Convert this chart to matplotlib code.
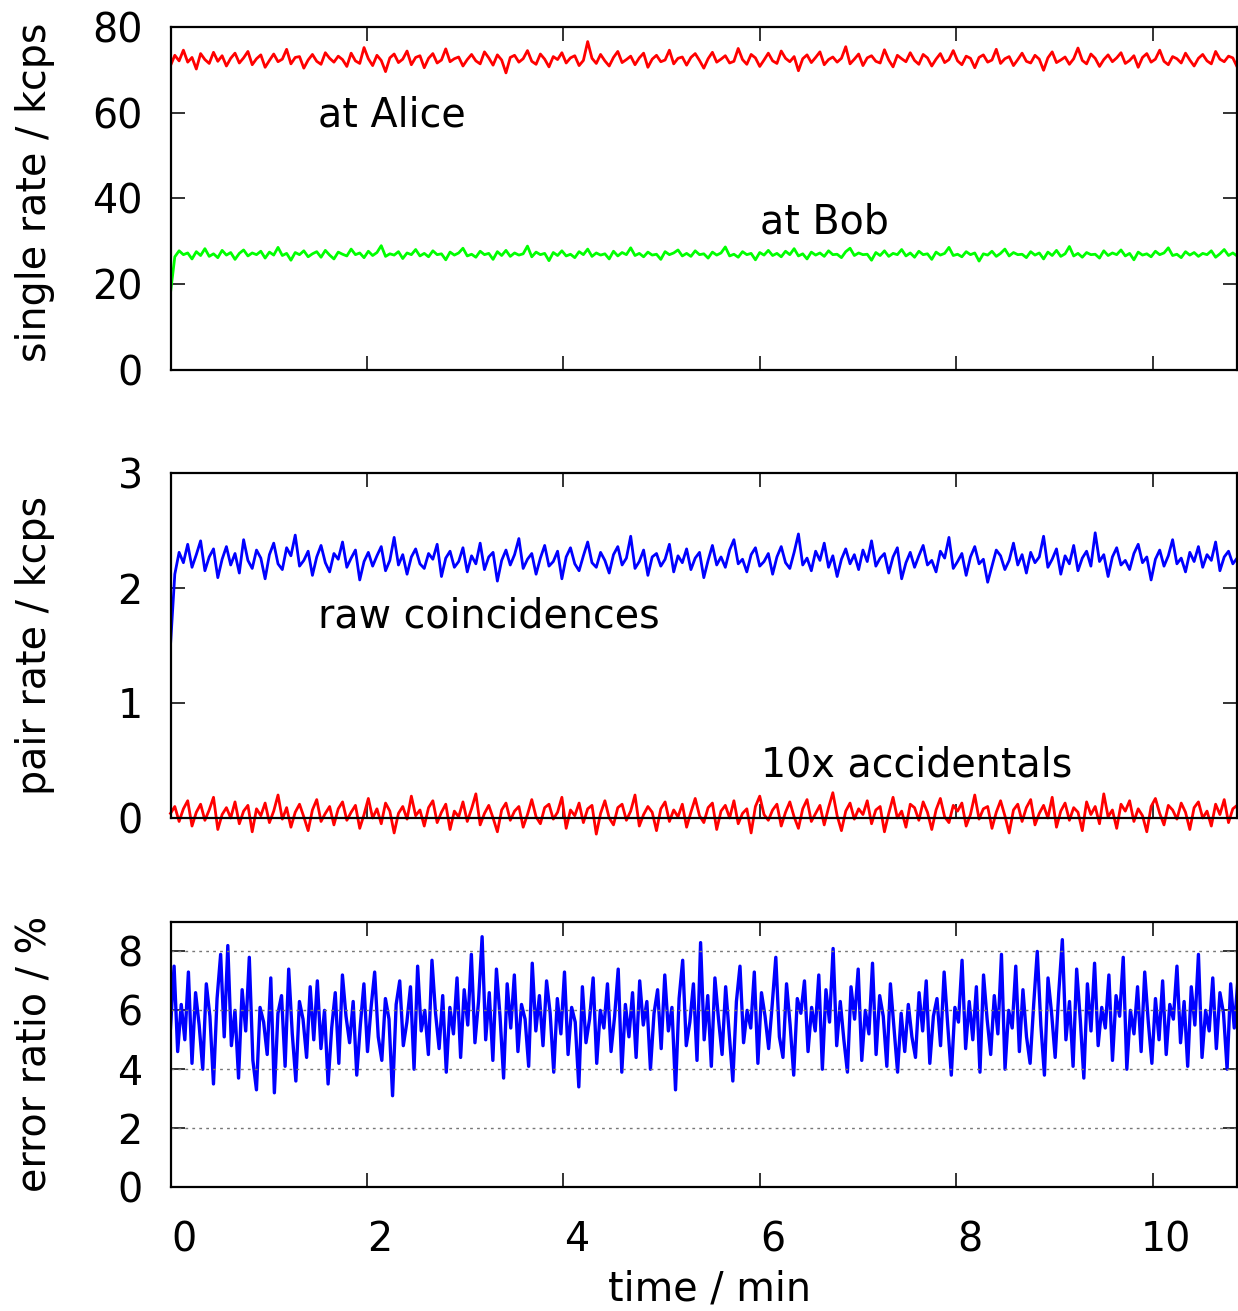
import numpy as np
import matplotlib
matplotlib.use("Agg")
import matplotlib.pyplot as plt
from matplotlib.transforms import ScaledTranslation

# ---- data ----
alice = [
    71.0, 73.4, 72.1, 74.6, 71.8, 72.9, 70.2, 73.8, 72.4, 71.5, 74.1, 72.0, 73.3, 70.9, 72.7, 73.9, 71.6, 72.8, 74.3, 71.2,
    72.6, 73.5, 70.6, 72.2, 73.7, 71.9, 72.5, 74.8, 71.4, 72.9, 73.1, 70.4, 72.3, 73.6, 72.0, 71.3, 74.0, 72.7, 71.8, 73.2,
    72.4, 70.8, 73.9, 72.1, 71.5, 75.2, 72.6, 71.0, 73.4, 72.2, 69.6, 72.8, 73.7, 71.7, 72.5, 74.4, 71.2, 72.9, 73.3, 70.5,
    72.7, 73.8, 71.6, 72.3, 74.9, 71.9, 72.6, 73.0, 70.9, 72.4, 73.6, 72.1, 71.4, 74.2, 72.8, 71.1, 73.5, 72.3, 69.3, 72.9,
    73.4, 71.8, 72.6, 74.5, 72.0, 71.3, 73.7, 72.5, 70.7, 73.1, 72.4, 74.0, 71.6, 72.8, 73.3, 71.0, 72.2, 76.6, 72.7, 71.5,
    73.6, 72.1, 70.9, 72.9, 74.3, 71.7, 72.4, 73.2, 71.2, 72.8, 73.9, 70.6, 72.5, 73.4, 71.9, 72.3, 74.6, 71.4, 72.7, 73.0,
    71.1, 72.9, 73.8, 72.2, 70.4, 72.6, 74.1, 71.8, 72.5, 73.3, 71.6, 72.0, 75.0, 72.4, 71.3, 73.6, 72.8, 70.8, 72.3, 73.9,
    72.1, 71.5, 74.4, 72.7, 71.9, 73.1, 69.8, 72.6, 73.5, 71.7, 72.9, 74.2, 71.2, 72.4, 73.0, 71.8, 72.7, 75.4, 71.4, 72.5,
    73.7, 71.0, 72.8, 73.3, 72.0, 71.6, 74.7, 72.3, 70.7, 73.4, 72.6, 71.9, 74.0, 72.2, 71.3, 73.6, 72.8, 70.9, 72.5, 73.8,
    71.7, 72.4, 74.5, 72.1, 71.2, 73.2, 72.7, 70.5, 72.9, 73.5, 71.8, 72.3, 74.8, 71.5, 72.6, 73.1, 71.0, 72.4, 73.9, 72.0,
    71.6, 73.4, 72.5, 69.9, 72.8, 74.2, 71.7, 72.3, 73.0, 71.3, 72.6, 75.1, 72.2, 71.4, 73.7, 72.7, 70.8, 72.4, 73.5, 71.9,
    72.8, 74.0, 71.5, 72.2, 73.3, 70.6, 72.9, 73.8, 71.8, 72.5, 74.6, 72.0, 71.2, 73.1, 72.6, 71.6, 73.9, 72.3, 70.9, 72.7,
    73.6, 72.1, 71.4, 74.3, 72.5, 71.9, 73.2, 72.8, 70.7, 72.4,
]

bob = [
    18.0, 26.4, 27.8, 26.9, 27.3, 25.9, 27.6, 26.7, 28.3, 26.5, 27.1, 26.2, 27.9, 26.8, 27.4, 25.8, 27.2, 28.0, 26.6, 27.3,
    26.9, 27.7, 26.1, 27.5, 26.8, 28.6, 26.7, 27.2, 25.6, 27.4, 26.9, 27.8, 26.4, 27.1, 27.6, 26.3, 27.9, 26.8, 25.9, 27.5,
    27.0, 26.6, 28.2, 26.9, 27.3, 26.2, 27.7, 26.7, 27.4, 29.0, 26.5, 27.1, 26.8, 27.6, 26.0, 27.3, 26.9, 28.1, 26.6, 27.2,
    26.4, 27.8, 26.9, 27.1, 25.7, 27.5, 26.8, 27.3, 28.4, 26.6, 27.0, 26.3, 27.7, 26.9, 27.2, 25.8, 27.6, 26.7, 27.9, 26.5,
    27.3, 26.8, 27.1, 28.9, 26.4, 27.5, 26.9, 27.2, 25.5, 27.4, 26.7, 27.8, 26.6, 27.0, 26.2, 27.6, 26.9, 28.2, 26.5, 27.3,
    26.8, 27.1, 25.9, 27.7, 26.6, 27.4, 26.9, 28.5, 26.7, 27.2, 26.4, 27.5, 26.8, 27.0, 25.8, 27.6, 26.9, 27.3, 28.0, 26.6,
    27.2, 26.5, 27.8, 26.9, 27.1, 26.1, 27.5, 26.8, 27.3, 28.7, 26.6, 27.0, 26.3, 27.6, 26.9, 27.2, 25.7, 27.4, 26.8, 27.9,
    26.7, 27.2, 26.4, 27.7, 26.9, 28.3, 26.6, 27.1, 25.9, 27.5, 26.8, 27.3, 26.5, 27.8, 26.9, 27.0, 26.2, 27.6, 28.4, 26.7,
    27.3, 26.9, 27.0, 25.6, 27.4, 26.7, 27.8, 26.5, 27.2, 26.9, 28.1, 26.6, 27.3, 26.3, 27.7, 26.9, 27.1, 25.8, 27.5, 26.8,
    27.2, 28.6, 26.7, 27.0, 26.4, 27.6, 26.9, 27.3, 25.4, 27.1, 26.8, 27.7, 26.5, 27.2, 28.2, 26.6, 27.4, 26.9, 27.0, 26.2,
    27.6, 26.8, 27.3, 25.9, 27.5, 26.7, 27.9, 26.5, 27.1, 28.8, 26.6, 27.2, 26.3, 27.4, 26.9, 27.0, 26.1, 27.8, 26.7, 27.3,
    26.9, 28.0, 26.6, 27.2, 25.7, 27.5, 26.8, 27.1, 26.4, 27.7, 26.9, 27.3, 28.5, 26.7, 27.0, 26.2, 27.6, 26.8, 27.4, 26.5,
    27.2, 26.9, 27.8, 26.3, 27.1, 28.1, 26.7, 27.3, 26.6, 27.0,
]

raw_coinc = [
    1.50, 2.12, 2.31, 2.22, 2.38, 2.18, 2.29, 2.41, 2.15, 2.27, 2.34, 2.09, 2.25, 2.36, 2.20, 2.30, 2.13, 2.42, 2.24, 2.17,
    2.33, 2.26, 2.08, 2.29, 2.39, 2.21, 2.16, 2.35, 2.28, 2.46, 2.19, 2.24, 2.32, 2.11, 2.27, 2.37, 2.22, 2.14, 2.30, 2.25,
    2.40, 2.18, 2.26, 2.33, 2.07, 2.23, 2.31, 2.19, 2.28, 2.36, 2.15, 2.24, 2.44, 2.20, 2.29, 2.12, 2.27, 2.34, 2.21, 2.17,
    2.30, 2.25, 2.38, 2.10, 2.26, 2.32, 2.18, 2.23, 2.35, 2.14, 2.28, 2.21, 2.39, 2.16, 2.27, 2.31, 2.06, 2.24, 2.33, 2.20,
    2.29, 2.43, 2.17, 2.25, 2.30, 2.12, 2.26, 2.37, 2.19, 2.23, 2.32, 2.08, 2.27, 2.35, 2.21, 2.15, 2.28, 2.40, 2.22, 2.18,
    2.31, 2.24, 2.13, 2.29, 2.36, 2.20, 2.26, 2.45, 2.17, 2.23, 2.33, 2.11, 2.27, 2.30, 2.19, 2.25, 2.38, 2.14, 2.28, 2.22,
    2.34, 2.16, 2.26, 2.31, 2.09, 2.24, 2.37, 2.20, 2.27, 2.18, 2.33, 2.42, 2.21, 2.25, 2.14, 2.29, 2.35, 2.19, 2.23, 2.30,
    2.12, 2.27, 2.36, 2.22, 2.17, 2.31, 2.47, 2.20, 2.26, 2.15, 2.32, 2.24, 2.39, 2.18, 2.28, 2.10, 2.25, 2.34, 2.21, 2.29,
    2.16, 2.33, 2.23, 2.41, 2.19, 2.26, 2.30, 2.13, 2.27, 2.35, 2.08, 2.22, 2.31, 2.18, 2.28, 2.37, 2.20, 2.24, 2.14, 2.32,
    2.26, 2.44, 2.17, 2.23, 2.30, 2.11, 2.27, 2.36, 2.21, 2.25, 2.05, 2.19, 2.33, 2.28, 2.16, 2.24, 2.39, 2.20, 2.29, 2.13,
    2.31, 2.22, 2.27, 2.45, 2.18, 2.25, 2.34, 2.12, 2.28, 2.21, 2.37, 2.15, 2.26, 2.32, 2.19, 2.48, 2.23, 2.29, 2.10, 2.27,
    2.35, 2.20, 2.24, 2.16, 2.30, 2.38, 2.22, 2.27, 2.07, 2.25, 2.33, 2.19, 2.28, 2.42, 2.21, 2.26, 2.14, 2.31, 2.23, 2.36,
    2.18, 2.29, 2.24, 2.40, 2.15, 2.27, 2.32, 2.21, 2.26, 2.30,
]

# accidentals, already multiplied by 10
accidentals_x10 = [
    0.04, 0.10, -0.03, 0.08, 0.15, -0.07, 0.05, 0.12, -0.02, 0.07, 0.18, -0.10, 0.03, 0.09, 0.00, 0.14, -0.05, 0.06, 0.11, -0.12,
    0.08, 0.02, 0.13, -0.04, 0.06, 0.20, -0.01, 0.09, -0.08, 0.05, 0.12, 0.01, -0.11, 0.07, 0.16, -0.03, 0.04, 0.10, -0.06, 0.08,
    0.14, -0.02, 0.05, 0.11, -0.09, 0.03, 0.17, 0.00, 0.08, -0.05, 0.13, 0.06, -0.13, 0.04, 0.10, -0.01, 0.19, 0.02, 0.07, -0.07,
    0.09, 0.15, -0.04, 0.05, 0.12, -0.10, 0.06, 0.01, 0.14, -0.03, 0.08, 0.21, -0.06, 0.04, 0.11, 0.00, -0.12, 0.07, 0.13, -0.02,
    0.06, 0.10, -0.08, 0.03, 0.16, 0.01, -0.05, 0.09, 0.12, -0.01, 0.05, 0.18, -0.09, 0.07, 0.02, 0.13, -0.04, 0.08, 0.11, -0.14,
    0.04, 0.15, 0.00, -0.06, 0.09, 0.12, -0.02, 0.06, 0.20, -0.07, 0.03, 0.10, 0.05, -0.11, 0.08, 0.14, -0.03, 0.07, 0.01, 0.12,
    -0.08, 0.05, 0.17, 0.02, -0.04, 0.09, 0.13, -0.10, 0.06, 0.11, 0.00, 0.15, -0.05, 0.04, 0.08, -0.13, 0.10, 0.19, 0.03, -0.02,
    0.07, 0.12, -0.07, 0.05, 0.14, 0.01, -0.09, 0.08, 0.16, -0.03, 0.04, 0.11, -0.06, 0.09, 0.22, 0.02, -0.11, 0.06, 0.13, -0.01,
    0.08, 0.03, 0.15, -0.05, 0.07, 0.10, -0.12, 0.04, 0.18, 0.00, 0.06, -0.08, 0.12, 0.09, -0.02, 0.14, 0.05, -0.10, 0.07, 0.17,
    0.01, -0.04, 0.11, 0.06, 0.13, -0.07, 0.03, 0.20, -0.01, 0.08, 0.10, -0.09, 0.05, 0.15, 0.02, -0.13, 0.07, 0.12, -0.03, 0.09,
    0.16, -0.06, 0.04, 0.11, 0.00, 0.18, -0.08, 0.06, 0.13, -0.02, 0.09, 0.05, -0.11, 0.14, 0.03, 0.10, -0.05, 0.21, 0.01, 0.07,
    -0.09, 0.12, 0.06, 0.15, -0.03, 0.08, 0.02, -0.12, 0.10, 0.17, 0.04, -0.06, 0.11, 0.07, -0.01, 0.13, 0.05, -0.10, 0.09, 0.14,
    0.00, 0.06, -0.07, 0.12, 0.03, 0.16, -0.04, 0.08, 0.11, -0.02,
]

error_ratio = [
    5.4, 7.5, 4.6, 6.2, 5.0, 7.3, 4.2, 6.6, 5.5, 4.0, 6.9, 5.8, 3.5, 6.4, 7.9, 5.1, 8.2, 4.8, 6.0, 3.7,
    6.7, 5.3, 7.8, 4.3, 3.3, 6.1, 5.6, 4.5, 7.1, 3.2, 5.9, 6.5, 4.1, 7.4, 5.2, 3.6, 6.3, 5.7, 4.4, 6.8,
    5.0, 7.0, 4.7, 6.0, 3.5, 5.4, 6.6, 4.2, 7.2, 5.8, 4.9, 6.3, 3.8, 5.5, 6.9, 4.6, 6.1, 7.3, 5.1, 4.3,
    6.4, 5.7, 3.1, 6.2, 7.0, 4.8, 5.6, 6.8, 4.0, 7.5, 5.3, 6.0, 4.5, 7.7, 5.9, 4.7, 6.5, 3.9, 6.1, 5.2,
    7.1, 4.4, 6.7, 5.5, 7.9, 4.9, 6.3, 8.5, 5.0, 6.6, 4.3, 7.4, 5.8, 3.7, 6.9, 5.4, 7.2, 4.6, 6.2, 5.7,
    4.1, 7.6, 5.3, 6.5, 4.8, 7.0, 5.9, 3.9, 6.4, 5.2, 7.3, 4.5, 6.1, 5.6, 3.4, 6.8, 4.9, 5.7, 7.1, 4.2,
    6.0, 5.4, 6.9, 4.6, 5.8, 7.4, 3.9, 6.2, 5.1, 6.6, 4.4, 7.0, 5.5, 6.3, 4.0, 5.9, 6.7, 4.7, 7.2, 5.3,
    6.1, 3.3, 6.4, 7.7, 4.8, 5.6, 6.9, 4.3, 8.3, 5.0, 6.5, 4.1, 7.1, 5.7, 4.5, 6.8, 5.2, 3.6, 6.3, 7.5,
    4.9, 6.0, 5.4, 7.3, 4.2, 6.6, 5.8, 4.7, 6.2, 7.8, 5.1, 4.4, 6.9, 5.5, 3.8, 6.4, 5.9, 7.0, 4.6, 6.1,
    5.3, 7.2, 4.0, 6.7, 5.6, 8.1, 4.8, 6.3, 5.0, 3.9, 6.8, 5.7, 7.4, 4.3, 6.0, 5.2, 7.6, 4.5, 6.5, 5.8,
    4.1, 6.9, 5.4, 3.9, 5.9, 4.6, 6.2, 5.1, 4.4, 6.6, 5.3, 7.0, 4.2, 5.8, 6.4, 4.8, 7.3, 5.5, 3.8, 6.1,
    5.6, 7.7, 4.7, 6.3, 5.0, 6.8, 3.9, 7.2, 5.7, 4.5, 6.5, 5.2, 7.9, 4.0, 6.0, 5.4, 7.5, 4.6, 6.7, 5.1,
    4.2, 6.2, 8.0, 5.5, 3.8, 7.1, 5.9, 4.4, 6.6, 8.4, 5.0, 6.3, 4.1, 7.4, 5.7, 3.7, 6.9, 5.3, 7.6, 4.8,
    6.1, 5.4, 7.2, 4.3, 6.5, 5.8, 7.8, 4.0, 6.0, 5.2, 6.8, 4.6, 7.3, 5.6, 4.2, 6.4, 5.0, 7.0, 4.5, 6.2,
    5.7, 7.5, 4.9, 6.3, 4.1, 6.8, 5.5, 7.9, 4.4, 6.0, 5.3, 7.1, 4.7, 6.6, 5.9, 4.0, 6.9, 5.4, 7.0, 5.8,
]

t_end = 10.9   # minutes, the run continues past the right edge
x_max = 10.855

plt.rcParams['font.family'] = ['DejaVu Sans']
FS = 28.5

W, H = 1238, 1311
fig = plt.figure(figsize=(W / 100, H / 100), dpi=100)


def make_axes(top_px, bottom_px):
    left, right = 170.5, 1237
    return fig.add_axes([left / W, 1 - bottom_px / H, (right - left) / W, (bottom_px - top_px) / H])


def style(ax, yticks, show_x):
    ax.set_xlim(0, x_max)
    ax.set_xticks([0, 2, 4, 6, 8, 10])
    ax.set_yticks(yticks)
    for sp in ax.spines.values():
        sp.set_linewidth(1.6)
        sp.set_zorder(4)
    ax.tick_params(direction='in', length=10, width=1.4, color='#333333',
                   top=True, right=True, labelsize=FS, pad=20)
    ax.tick_params(axis='x', pad=24, labelbottom=show_x)
    # gnuplot-like label offset: x labels sit a bit right of their ticks
    for lab in ax.get_xticklabels():
        lab.set_transform(lab.get_transform() + ScaledTranslation(0.13, 0, fig.dpi_scale_trans))


# ---- top: single rates ----
ax1 = make_axes(27, 370)
t = np.linspace(0, t_end, len(alice))
ax1.plot(t, alice, color='#ff0000', lw=2.0)
t = np.linspace(0, t_end, len(bob))
ax1.plot(t, bob, color='#00ff00', lw=2.0)
ax1.set_ylim(0, 80)
style(ax1, [0, 20, 40, 60, 80], False)
ax1.text(1.50, 56.7, 'at Alice', fontsize=FS, va='baseline')
ax1.text(6.00, 31.9, 'at Bob', fontsize=FS, va='baseline')

# ---- middle: pair rates ----
ax2 = make_axes(473, 818)
t = np.linspace(0, t_end, len(raw_coinc))
ax2.plot(t, raw_coinc, color='#0000ff', lw=2.0)
t = np.linspace(0, t_end, len(accidentals_x10))
ax2.plot(t, accidentals_x10, color='#ff0000', lw=2.0, clip_on=False)
ax2.set_ylim(0, 3)
style(ax2, [0, 1, 2, 3], False)
ax2.text(1.50, 1.66, 'raw coincidences', fontsize=FS, va='baseline')
ax2.text(6.01, 0.357, '10x accidentals', fontsize=FS, va='baseline')

# ---- bottom: error ratio ----
ax3 = make_axes(922, 1187)
t = np.linspace(0, t_end, len(error_ratio))
ax3.plot(t, error_ratio, color='#0000ff', lw=2.4)
ax3.set_ylim(0, 9)
for yv in [2, 4, 6, 8]:
    ax3.axhline(yv, color='#777777', lw=1.0, ls=(0, (2, 3)), zorder=3)
style(ax3, [0, 2, 4, 6, 8], True)

# axis labels
fig.text(35 / W, 1 - 192 / H, 'single rate / kcps', rotation=90, ha='center', va='center', fontsize=FS)
fig.text(35 / W, 1 - 645 / H, 'pair rate / kcps', rotation=90, ha='center', va='center', fontsize=FS)
fig.text(35 / W, 1 - 1054 / H, 'error ratio / %', rotation=90, ha='center', va='center', fontsize=FS)
fig.text(710 / W, 1 - 1290 / H, 'time / min', ha='center', va='center', fontsize=FS)

fig.savefig('out.png', dpi=100)
